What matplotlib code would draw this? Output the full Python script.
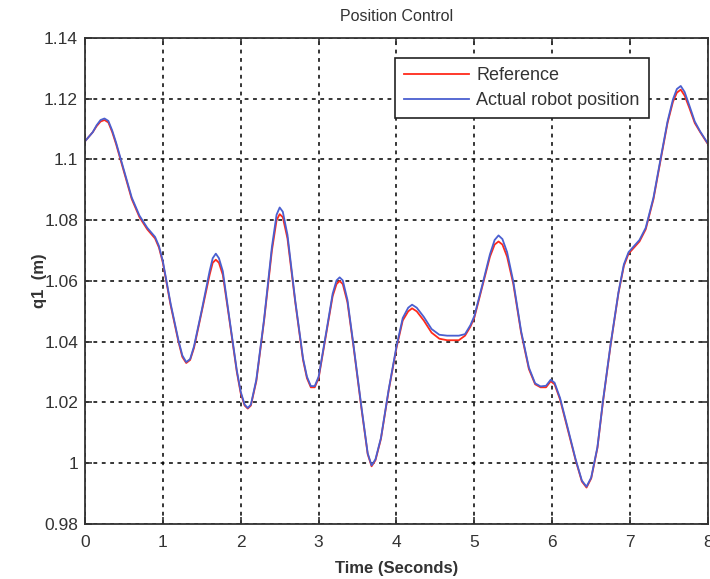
import matplotlib
matplotlib.use("Agg")
import matplotlib.pyplot as plt

plt.rcParams['font.family'] = ['Liberation Sans', 'DejaVu Sans']

# Time samples (s) and joint position values
t = [0.0, 0.1, 0.15, 0.2, 0.25, 0.3, 0.35, 0.4, 0.5, 0.6,
     0.7, 0.8, 0.9, 0.95, 1.0, 1.1, 1.2, 1.25, 1.3, 1.35,
     1.4, 1.5, 1.6, 1.64, 1.68, 1.72, 1.77, 1.85, 1.95, 2.0,
     2.05, 2.09, 2.13, 2.2, 2.3, 2.4, 2.46, 2.5, 2.54, 2.6,
     2.7, 2.8, 2.85, 2.9, 2.95, 3.0, 3.1, 3.18, 3.23, 3.27,
     3.31, 3.37, 3.45, 3.55, 3.63, 3.68, 3.73, 3.8, 3.9, 4.0,
     4.08, 4.15, 4.2, 4.26, 4.35, 4.45, 4.55, 4.65, 4.8, 4.88,
     4.95, 5.0, 5.1, 5.2, 5.26, 5.31, 5.36, 5.42, 5.5, 5.6,
     5.7, 5.78, 5.85, 5.92, 5.98, 6.03, 6.1, 6.2, 6.3, 6.38,
     6.44, 6.5, 6.58, 6.65, 6.75, 6.85, 6.92, 6.98, 7.05, 7.12,
     7.2, 7.3, 7.4, 7.48, 7.55, 7.6, 7.65, 7.7, 7.76, 7.83,
     7.9, 7.95, 8.0]

reference = [1.106, 1.109, 1.111, 1.1125, 1.113, 1.1122, 1.109, 1.105, 1.096, 1.087,
             1.081, 1.077, 1.074, 1.071, 1.066, 1.052, 1.040, 1.035, 1.033, 1.034,
             1.038, 1.050, 1.062, 1.066, 1.067, 1.066, 1.062, 1.048, 1.030, 1.023,
             1.019, 1.018, 1.019, 1.027, 1.047, 1.070, 1.080, 1.082, 1.081, 1.074,
             1.053, 1.034, 1.028, 1.025, 1.025, 1.028, 1.043, 1.055, 1.059, 1.060,
             1.059, 1.053, 1.038, 1.018, 1.003, 0.999, 1.001, 1.008, 1.024, 1.038,
             1.047, 1.050, 1.051, 1.050, 1.047, 1.043, 1.041, 1.0405, 1.0405, 1.042,
             1.045, 1.048, 1.058, 1.068, 1.072, 1.073, 1.072, 1.068, 1.059, 1.043,
             1.031, 1.026, 1.025, 1.025, 1.027, 1.026, 1.021, 1.011, 1.001, 0.994,
             0.992, 0.995, 1.005, 1.020, 1.039, 1.056, 1.065, 1.069, 1.071, 1.073,
             1.077, 1.087, 1.101, 1.112, 1.119, 1.122, 1.123, 1.121, 1.117, 1.112,
             1.109, 1.107, 1.105]

actual = [1.106, 1.109, 1.1113, 1.113, 1.1135, 1.1127, 1.1095, 1.1055, 1.0965, 1.0875,
          1.0815, 1.0775, 1.0745, 1.0715, 1.0665, 1.0525, 1.0405, 1.0355, 1.0333, 1.0343,
          1.0385, 1.0505, 1.0632, 1.0675, 1.069, 1.0675, 1.0632, 1.0485, 1.0305, 1.0235,
          1.0193, 1.0182, 1.0193, 1.0275, 1.0475, 1.0712, 1.0818, 1.0842, 1.0828, 1.0752,
          1.0535, 1.0345, 1.0285, 1.0254, 1.0254, 1.0285, 1.0435, 1.0558, 1.0602, 1.0612,
          1.0602, 1.0538, 1.0385, 1.0185, 1.0033, 0.9993, 1.0013, 1.0083, 1.0243, 1.0385,
          1.0478, 1.0512, 1.0522, 1.0512, 1.0482, 1.0442, 1.0423, 1.042, 1.042, 1.0425,
          1.0455, 1.0485, 1.0585, 1.0688, 1.0735, 1.075, 1.0738, 1.0695, 1.0598, 1.0435,
          1.0315, 1.0263, 1.0253, 1.0255, 1.0275, 1.0265, 1.0215, 1.0115, 1.0013, 0.9943,
          0.9923, 0.9953, 1.0053, 1.0203, 1.0393, 1.0563, 1.0655, 1.0695, 1.0715, 1.0735,
          1.0775, 1.0875, 1.1015, 1.1125, 1.1198, 1.1232, 1.1242, 1.1222, 1.1178, 1.1125,
          1.1092, 1.1072, 1.1052]

xticks = [0, 1, 2, 3, 4, 5, 6, 7, 8]
yticks = [0.98, 1.0, 1.02, 1.04, 1.06, 1.08, 1.10, 1.12, 1.14]
ytick_labels = ["0.98", "1", "1.02", "1.04", "1.06", "1.08", "1.1", "1.12", "1.14"]

txt = "#333333"

fig = plt.figure(figsize=(7.1, 5.79), dpi=100)
ax = fig.add_axes([0.1197, 0.095, 0.8775, 0.8394])

ax.plot(t, reference, color="#ff2a1a", lw=1.3, label="Reference")
ax.plot(t, actual, color="#4a5fd0", lw=1.3, label="Actual robot position")

ax.set_xlim(0, 8)
ax.set_ylim(0.98, 1.14)
ax.set_xticks(xticks)
ax.set_yticks(yticks)
ax.set_yticklabels(ytick_labels)
ax.tick_params(direction="in", length=5, width=1.2, labelsize=12.5, colors=txt,
               top=True, right=True)
ax.tick_params(axis="x", pad=8)
ax.tick_params(axis="y", pad=5)
ax.grid(True, color="black", linestyle=(0, (2.5, 3)), linewidth=1.1)
for s in ax.spines.values():
    s.set_linewidth(1.3)
    s.set_color("#333333")

ax.set_title("Position Control", fontsize=11.5, color=txt, pad=12)
ax.set_xlabel("Time (Seconds)", fontsize=12, color=txt, fontweight="bold", labelpad=8)
ax.set_ylabel("q1  (m)", fontsize=12, color=txt, fontweight="bold", labelpad=-2)

leg = ax.legend(loc="upper right", bbox_to_anchor=(0.905, 0.959), fontsize=13,
                fancybox=False, framealpha=1, edgecolor="#222222", handlelength=3.6,
                borderpad=0.5, labelspacing=0.45, handletextpad=0.4, borderaxespad=0)
leg.get_frame().set_linewidth(1.2)
for text in leg.get_texts():
    text.set_color(txt)

fig.savefig("out.png", dpi=100)
